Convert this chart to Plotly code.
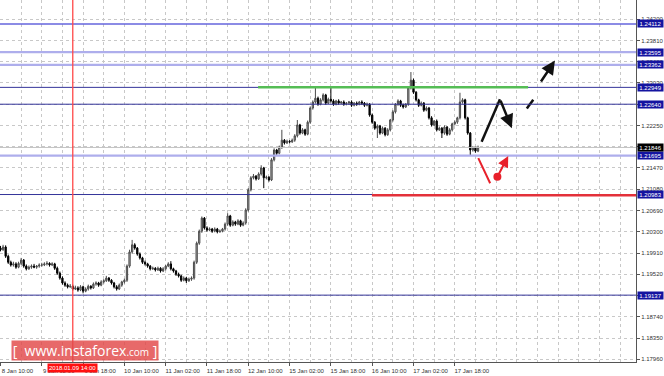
import plotly.graph_objects as go

# ---------------- data (hourly bars, bar index 0 = 8 Jan 10:00) ----------------
opens = [1.2000,1.1997,1.2002,1.1985,1.1974,1.1969,1.1971,1.1965,1.1972,1.1978,
 1.1967,1.1962,1.1965,1.1967,1.1965,1.1967,1.1969,1.1969,1.1971,1.1972,
 1.1969,1.1971,1.1963,1.1954,1.1945,1.1936,1.1932,1.1929,1.1930,1.1925,
 1.1927,1.1923,1.1929,1.1921,1.1925,1.1930,1.1927,1.1934,1.1936,1.1932,
 1.1938,1.1940,1.1945,1.1941,1.1936,1.1929,1.1925,1.1932,1.1938,1.1941,
 1.1967,1.1993,1.2006,1.2000,1.1989,1.1982,1.1974,1.1971,1.1967,1.1962,
 1.1963,1.1960,1.1963,1.1958,1.1962,1.1967,1.1971,1.1962,1.1958,1.1952,
 1.1949,1.1941,1.1945,1.1940,1.1943,1.1945,1.1974,1.2009,1.2031,1.2055,
 1.2037,1.2033,1.2035,1.2031,1.2035,1.2030,1.2031,1.2035,1.2044,1.2059,
 1.2042,1.2048,1.2044,1.2050,1.2042,1.2046,1.2070,1.2107,1.2129,1.2132,
 1.2127,1.2136,1.2147,1.2129,1.2130,1.2125,1.2162,1.2180,1.2174,1.2185,
 1.2198,1.2193,1.2196,1.2195,1.2198,1.2206,1.2226,1.2211,1.2217,1.2209,
 1.2231,1.2257,1.2268,1.2275,1.2264,1.2272,1.2281,1.2266,1.2273,1.2270,
 1.2264,1.2270,1.2266,1.2268,1.2264,1.2266,1.2268,1.2262,1.2266,1.2264,
 1.2268,1.2266,1.2262,1.2264,1.2244,1.2231,1.2220,1.2224,1.2211,1.2220,
 1.2208,1.2217,1.2235,1.2250,1.2264,1.2270,1.2262,1.2259,1.2264,1.2294,
 1.2308,1.2286,1.2272,1.2262,1.2266,1.2253,1.2257,1.2239,1.2226,1.2233,
 1.2217,1.2220,1.2211,1.2222,1.2209,1.2217,1.2228,1.2231,1.2239,1.2268,
 1.2272,1.2239,1.2211,1.2180,1.2184,1.2178]

highs = [1.2004,1.2006,1.2005,1.1988,1.1977,1.1975,1.1974,1.1975,1.1982,1.1980,
 1.1970,1.1968,1.1970,1.1971,1.1969,1.1972,1.1973,1.1974,1.1976,1.1974,
 1.1974,1.1973,1.1966,1.1957,1.1948,1.1939,1.1935,1.1934,1.1933,1.1931,
 1.1930,1.1932,1.1931,1.1928,1.1933,1.1932,1.1937,1.1939,1.1938,1.1941,
 1.1943,1.1949,1.1947,1.1943,1.1938,1.1932,1.1935,1.1940,1.1944,1.1970,
 1.1997,1.2015,1.2009,1.2002,1.1992,1.1984,1.1977,1.1973,1.1969,1.1966,
 1.1965,1.1966,1.1965,1.1965,1.1969,1.1974,1.1976,1.1964,1.1960,1.1955,
 1.1951,1.1948,1.1947,1.1946,1.1948,1.1977,1.2012,1.2034,1.2058,1.2057,
 1.2040,1.2038,1.2037,1.2038,1.2037,1.2034,1.2037,1.2047,1.2064,1.2061,
 1.2051,1.2050,1.2053,1.2052,1.2049,1.2073,1.2110,1.2132,1.2136,1.2134,
 1.2139,1.2152,1.2149,1.2133,1.2132,1.2165,1.2183,1.2182,1.2188,1.2217,
 1.2200,1.2199,1.2198,1.2201,1.2209,1.2235,1.2228,1.2220,1.2219,1.2234,
 1.2260,1.2271,1.2296,1.2278,1.2275,1.2284,1.2283,1.2276,1.2294,1.2273,
 1.2272,1.2273,1.2270,1.2271,1.2268,1.2270,1.2271,1.2268,1.2269,1.2270,
 1.2271,1.2268,1.2267,1.2266,1.2247,1.2233,1.2227,1.2226,1.2223,1.2222,
 1.2220,1.2237,1.2253,1.2266,1.2273,1.2272,1.2265,1.2266,1.2297,1.2323,
 1.2311,1.2288,1.2274,1.2269,1.2268,1.2260,1.2259,1.2242,1.2235,1.2236,
 1.2223,1.2222,1.2225,1.2224,1.2220,1.2230,1.2234,1.2241,1.2285,1.2275,
 1.2274,1.2241,1.2213,1.2187,1.2186,1.2188]

lows = [1.1994,1.1995,1.1982,1.1971,1.1966,1.1966,1.1962,1.1963,1.1969,1.1964,
 1.1959,1.1960,1.1962,1.1963,1.1962,1.1964,1.1966,1.1967,1.1968,1.1966,
 1.1967,1.1960,1.1951,1.1942,1.1933,1.1929,1.1926,1.1927,1.1922,1.1923,
 1.1920,1.1921,1.1917,1.1919,1.1922,1.1924,1.1925,1.1931,1.1929,1.1930,
 1.1935,1.1938,1.1938,1.1933,1.1926,1.1922,1.1923,1.1929,1.1935,1.1938,
 1.1964,1.1990,1.1997,1.1986,1.1979,1.1971,1.1968,1.1964,1.1959,1.1960,
 1.1957,1.1958,1.1955,1.1956,1.1959,1.1965,1.1959,1.1955,1.1949,1.1946,
 1.1938,1.1939,1.1936,1.1938,1.1940,1.1942,1.1971,1.2006,1.2028,1.2034,
 1.2030,1.2031,1.2028,1.2029,1.2027,1.2028,1.2029,1.2032,1.2041,1.2039,
 1.2040,1.2041,1.2042,1.2039,1.2040,1.2043,1.2067,1.2104,1.2126,1.2124,
 1.2125,1.2133,1.2110,1.2126,1.2122,1.2123,1.2159,1.2171,1.2172,1.2182,
 1.2190,1.2191,1.2192,1.2193,1.2195,1.2203,1.2208,1.2209,1.2206,1.2207,
 1.2228,1.2254,1.2265,1.2261,1.2262,1.2269,1.2263,1.2264,1.2267,1.2261,
 1.2262,1.2263,1.2264,1.2261,1.2262,1.2263,1.2259,1.2260,1.2261,1.2262,
 1.2263,1.2259,1.2260,1.2241,1.2228,1.2217,1.2202,1.2208,1.2209,1.2205,
 1.2206,1.2214,1.2232,1.2247,1.2261,1.2259,1.2256,1.2257,1.2261,1.2291,
 1.2283,1.2269,1.2259,1.2260,1.2250,1.2251,1.2236,1.2223,1.2224,1.2214,
 1.2215,1.2202,1.2208,1.2206,1.2207,1.2214,1.2225,1.2228,1.2236,1.2265,
 1.2236,1.2208,1.2169,1.2177,1.2175,1.2176]

closes = [1.1997,1.2002,1.1985,1.1974,1.1969,1.1971,1.1965,1.1972,1.1978,1.1967,
 1.1962,1.1965,1.1967,1.1965,1.1967,1.1969,1.1969,1.1971,1.1972,1.1969,
 1.1971,1.1963,1.1954,1.1945,1.1936,1.1932,1.1929,1.1930,1.1925,1.1927,
 1.1923,1.1929,1.1921,1.1925,1.1930,1.1927,1.1934,1.1936,1.1932,1.1938,
 1.1940,1.1945,1.1941,1.1936,1.1929,1.1925,1.1932,1.1938,1.1941,1.1967,
 1.1993,1.2006,1.2000,1.1989,1.1982,1.1974,1.1971,1.1967,1.1962,1.1963,
 1.1960,1.1963,1.1958,1.1962,1.1967,1.1971,1.1962,1.1958,1.1952,1.1949,
 1.1941,1.1945,1.1940,1.1943,1.1945,1.1974,1.2009,1.2031,1.2055,1.2037,
 1.2033,1.2035,1.2031,1.2035,1.2030,1.2031,1.2035,1.2044,1.2059,1.2042,
 1.2048,1.2044,1.2050,1.2042,1.2046,1.2070,1.2107,1.2129,1.2132,1.2127,
 1.2136,1.2147,1.2129,1.2130,1.2125,1.2162,1.2180,1.2174,1.2185,1.2198,
 1.2193,1.2196,1.2195,1.2198,1.2206,1.2226,1.2211,1.2217,1.2209,1.2231,
 1.2257,1.2268,1.2275,1.2264,1.2272,1.2281,1.2266,1.2273,1.2270,1.2264,
 1.2270,1.2266,1.2268,1.2264,1.2266,1.2268,1.2262,1.2266,1.2264,1.2268,
 1.2266,1.2262,1.2264,1.2244,1.2231,1.2220,1.2224,1.2211,1.2220,1.2208,
 1.2217,1.2235,1.2250,1.2264,1.2270,1.2262,1.2259,1.2264,1.2294,1.2308,
 1.2286,1.2272,1.2262,1.2266,1.2253,1.2257,1.2239,1.2226,1.2233,1.2217,
 1.2220,1.2211,1.2222,1.2209,1.2217,1.2228,1.2231,1.2239,1.2268,1.2272,
 1.2239,1.2211,1.2180,1.2184,1.2178,1.2185]

bars = list(range(len(closes)))

# time axis labels
x_tick_bars = [0, 16, 32, 48, 64, 80, 96, 112, 128, 144, 160, 176]
x_tick_labels = ["8 Jan 10:00", "9 Jan 02:00", "9 Jan 18:00", "10 Jan 10:00",
                 "11 Jan 02:00", "11 Jan 18:00", "12 Jan 10:00", "15 Jan 02:00",
                 "15 Jan 18:00", "16 Jan 10:00", "17 Jan 02:00", "17 Jan 18:00"]
marker_bar = 28
marker_label = "2018.01.09 14:00"

# price axis ticks (labels hidden under a level box are left blank)
y_ticks = [1.17960, 1.18350, 1.18740, 1.19130, 1.19520, 1.19910, 1.20300, 1.20690,
           1.21080, 1.21470, 1.21860, 1.22250, 1.22640, 1.23030, 1.23420, 1.23810, 1.24200]
y_hidden = [1.19130, 1.21860, 1.22640]

# horizontal levels
level_values = [1.24112, 1.23595, 1.23362, 1.22949, 1.22640, 1.21695, 1.20983, 1.19137]
level_kinds = ["mid", "light", "light", "dark", "dark", "light", "dark", "dark"]
current_price = 1.21846
green_level = 1.2295
green_from, green_to = 99.8, 204.4
red_level = 1.2097
red_from = 143.9

# forecast paths (bar index, price)
up_path_x = [186.4, 193.5]
up_path_p = [1.2195, 1.2273]
down_arrow_x = [193.5, 198.1]
down_arrow_p = [1.2273, 1.2220]
dash_x = [203.9, 206.4]
dash_p = [1.2256, 1.2272]
dash_arrow_x = [209.0, 214.8]
dash_arrow_p = [1.2303, 1.2344]
red_path_x = [185.1, 189.7]
red_path_p = [1.2165, 1.2119]
red_arrow_x = [192.5, 196.7]
red_arrow_p = [1.2131, 1.2169]

# ---------------- figure ----------------
X_RANGE = [-0.19, 246.2]
Y_RANGE = [1.17910, 1.24552]
FONT = "Liberation Sans"
GRID = "#c8c8c8"

fig = go.Figure()

fig.add_trace(go.Candlestick(
    x=bars, open=opens, high=highs, low=lows, close=closes,
    increasing=dict(line=dict(color="#4a4a4a", width=1), fillcolor="#b4b4b4"),
    decreasing=dict(line=dict(color="#000000", width=1), fillcolor="#000000"),
    whiskerwidth=0, hoverinfo="skip", showlegend=False,
))

shapes = []
line_styles = {
    "mid": dict(color="#6464dc", width=1.5),
    "light": dict(color="#aeaeec", width=2.2),
    "dark": dict(color="#34349a", width=1),
}
shapes.append(dict(type="line", xref="paper", x0=0, x1=1, yref="y",
                   y0=current_price, y1=current_price,
                   line=dict(color="#c4c4c4", width=1), layer="above"))
for v, k in zip(level_values, level_kinds):
    shapes.append(dict(type="line", xref="paper", x0=0, x1=1, yref="y", y0=v, y1=v,
                       line=line_styles[k], layer="above"))
shapes.append(dict(type="line", xref="x", x0=green_from, x1=green_to, yref="y",
                   y0=green_level, y1=green_level,
                   line=dict(color="#55bd55", width=2.5), layer="above"))
shapes.append(dict(type="line", xref="x", x0=red_from, x1=X_RANGE[1], yref="y",
                   y0=red_level, y1=red_level,
                   line=dict(color="#e3303a", width=2.5), layer="above"))
shapes.append(dict(type="line", xref="x", x0=marker_bar, x1=marker_bar, yref="paper",
                   y0=0, y1=1, line=dict(color="#ff4848", width=1.3), layer="above"))

# forecast drawings
fig.add_trace(go.Scatter(x=up_path_x, y=up_path_p, mode="lines",
                         line=dict(color="#111111", width=2.5), hoverinfo="skip",
                         showlegend=False))
fig.add_trace(go.Scatter(x=dash_x, y=dash_p, mode="lines",
                         line=dict(color="#111111", width=2.5), hoverinfo="skip",
                         showlegend=False))
fig.add_trace(go.Scatter(x=red_path_x, y=red_path_p, mode="lines",
                         line=dict(color="#e8202a", width=2), hoverinfo="skip",
                         showlegend=False))
fig.add_trace(go.Scatter(x=[red_arrow_x[0]], y=[red_arrow_p[0]], mode="markers",
                         marker=dict(color="#e8202a", size=8), hoverinfo="skip",
                         showlegend=False))

annotations = []
for ax_, ap_, col in [(down_arrow_x, down_arrow_p, "#111111"),
                      (dash_arrow_x, dash_arrow_p, "#111111"),
                      (red_arrow_x, red_arrow_p, "#e8202a")]:
    annotations.append(dict(x=ax_[1], y=ap_[1], ax=ax_[0], ay=ap_[0],
                            xref="x", yref="y", axref="x", ayref="y", text="",
                            showarrow=True, arrowhead=2, arrowsize=1.1,
                            arrowwidth=2.5 if col == "#111111" else 2,
                            arrowcolor=col, standoff=0))

# level labels on the price scale
for v in level_values:
    annotations.append(dict(x=1, xref="paper", xanchor="left", xshift=1,
                            y=v, yref="y", yanchor="middle",
                            text=f"{v:.5f}", showarrow=False,
                            font=dict(family=FONT, size=6, color="#ffffff"),
                            bgcolor="#1414a0", borderpad=0.5, width=24))
annotations.append(dict(x=1, xref="paper", xanchor="left", xshift=1,
                        y=current_price, yref="y", yanchor="middle",
                        text=f"{current_price:.5f}", showarrow=False,
                        font=dict(family=FONT, size=6, color="#ffffff"),
                        bgcolor="#000000", borderpad=0.5, width=24))

# time marker label
annotations.append(dict(x=marker_bar, xref="x", y=0, yref="paper", yanchor="top",
                        yshift=-1, text=marker_label, showarrow=False,
                        font=dict(family=FONT, size=6, color="#ffffff"),
                        bgcolor="#ff1010", borderpad=1))

# watermark
annotations.append(dict(x=11 / 636, xref="paper", xanchor="left", y=0, yref="paper",
                        yanchor="bottom", yshift=1,
                        text="[&nbsp;&nbsp;www.instaforex<span style='font-size:10px'>.com</span>&nbsp;]",
                        showarrow=False, width=144, height=17,
                        font=dict(family="Open Sans", size=14, color="#ffffff"),
                        bgcolor="rgba(226,72,72,0.82)", borderpad=1))

fig.update_layout(
    width=664, height=376,
    margin=dict(l=0, r=28, t=0, b=14),
    paper_bgcolor="#ffffff", plot_bgcolor="#ffffff",
    font=dict(family=FONT, size=6, color="#333333"),
    showlegend=False,
    shapes=shapes, annotations=annotations,
    xaxis=dict(
        range=X_RANGE, rangeslider=dict(visible=False),
        tickmode="array", tickvals=x_tick_bars, ticktext=x_tick_labels,
        ticks="outside", ticklen=3, tickcolor="#555555",
        ticklabelshift=17, ticklabelstandoff=0,
        tickfont=dict(family=FONT, size=6, color="#333333"),
        showgrid=True, gridcolor=GRID, griddash="3px,3px", gridwidth=1,
        minor=dict(tick0=0, dtick=8, showgrid=True, gridcolor=GRID,
                   griddash="3px,3px", ticks=""),
        showline=True, linecolor="#555555", linewidth=1,
        zeroline=False, fixedrange=True,
    ),
    yaxis=dict(
        range=Y_RANGE, side="right",
        tickmode="array", tickvals=y_ticks,
        ticktext=["" if v in y_hidden else f"{v:.5f}" for v in y_ticks],
        ticks="outside", ticklen=3, tickcolor="#555555",
        tickfont=dict(family=FONT, size=6, color="#333333"),
        showgrid=True, gridcolor=GRID, griddash="3px,3px", gridwidth=1,
        showline=True, linecolor="#555555", linewidth=1,
        zeroline=False, fixedrange=True,
    ),
)

fig.write_html("out.html")
